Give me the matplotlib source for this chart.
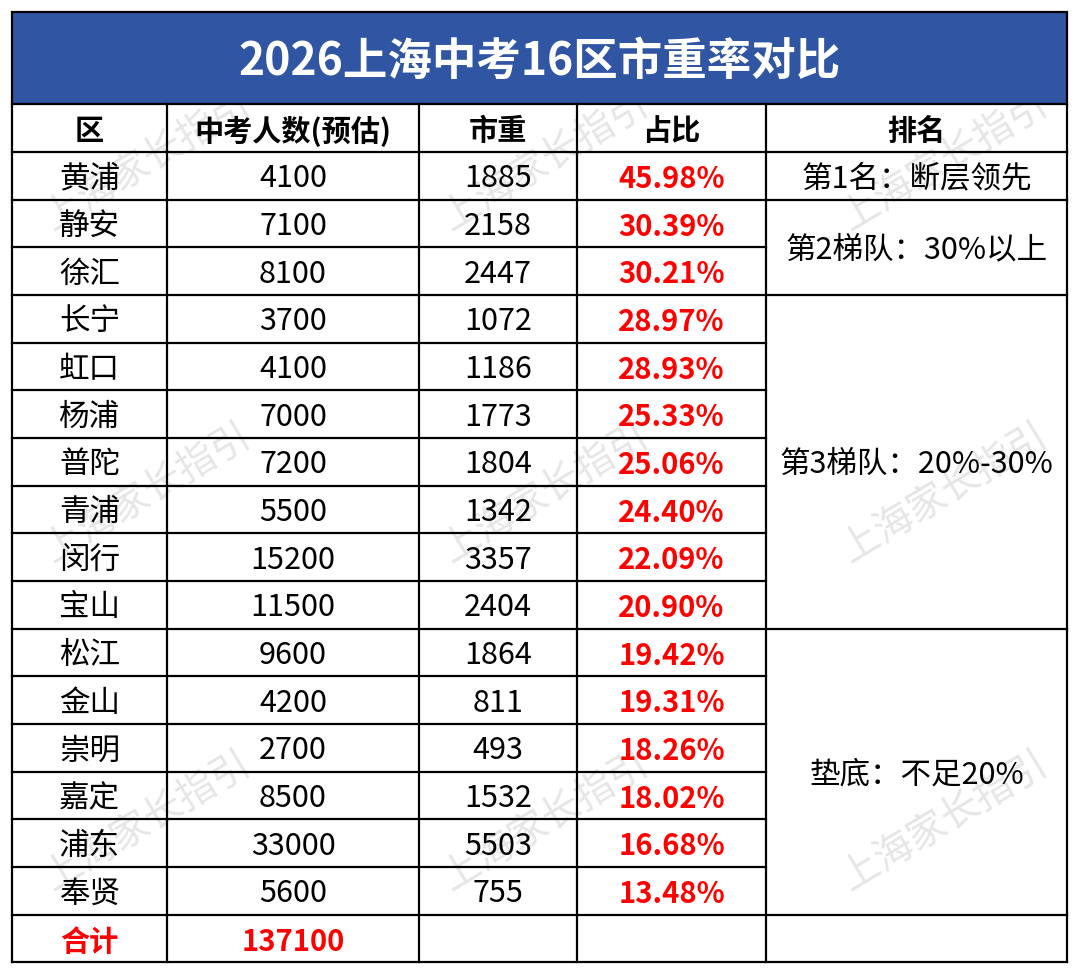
import matplotlib
matplotlib.use('Agg')
import matplotlib.pyplot as plt
from matplotlib.patches import Rectangle

plt.rcParams['font.family'] = ['Noto Sans CJK SC', 'DejaVu Sans']

# 数据
title = '2026上海中考16区市重率对比'
headers = ['区', '中考人数(预估)', '市重', '占比', '排名']
districts = ['黄浦', '静安', '徐汇', '长宁', '虹口', '杨浦', '普陀', '青浦',
             '闵行', '宝山', '松江', '金山', '崇明', '嘉定', '浦东', '奉贤']
students = [4100, 7100, 8100, 3700, 4100, 7000, 7200, 5500,
            15200, 11500, 9600, 4200, 2700, 8500, 33000, 5600]
quota = [1885, 2158, 2447, 1072, 1186, 1773, 1804, 1342,
         3357, 2404, 1864, 811, 493, 1532, 5503, 755]
ratio = [45.98, 30.39, 30.21, 28.97, 28.93, 25.33, 25.06, 24.40,
         22.09, 20.90, 19.42, 19.31, 18.26, 18.02, 16.68, 13.48]
tier_labels = ['第1名：断层领先', '第2梯队：30%以上', '第3梯队：20%-30%', '垫底：不足20%']
tier_rows = [1, 2, 7, 6]
total_label = '合计'
total_students = 137100
watermark = '上海家长指引'

# 版式（像素）
W, H = 1080, 975
col_x = [12, 167, 419, 577, 766, 1067]
top, title_bottom, header_bottom = 12, 104, 152
row_h = 47.67
n = len(districts)
dy = 3  # 文字下移，让中文看起来居中

fig = plt.figure(figsize=(W / 100, H / 100), dpi=100)
ax = fig.add_axes([0, 0, 1, 1])
ax.set_xlim(0, W)
ax.set_ylim(H, 0)
ax.axis('off')

fs = 22
lw = 1.6

# 水印
for cx in [148, 546, 945]:
    for cy in [162, 494, 822]:
        ax.text(cx, cy, watermark, fontsize=28, color='#e6e6e6', rotation=31,
                ha='center', va='center', zorder=1)

# 标题栏
ax.add_patch(Rectangle((col_x[0], top), col_x[-1] - col_x[0], title_bottom - top,
                       facecolor='#2F55A3', edgecolor='black', lw=lw, zorder=2))
ax.text((col_x[0] + col_x[-1]) / 2, (top + title_bottom) / 2 + 4, title,
        fontsize=32, fontweight='bold', color='white', ha='center', va='center', zorder=3)

centers = [(col_x[i] + col_x[i + 1]) / 2 for i in range(5)]

# 表头
for c, h in zip(centers, headers):
    ax.text(c, (title_bottom + header_bottom) / 2 + dy, h, fontsize=21, fontweight='bold',
            ha='center', va='center', zorder=3)

# 数据行
def row_y(i):
    return header_bottom + i * row_h

for i in range(n):
    yc = row_y(i) + row_h / 2 + dy
    ax.text(centers[0], yc, districts[i], fontsize=fs, ha='center', va='center', zorder=3)
    ax.text(centers[1], yc, str(students[i]), fontsize=fs, ha='center', va='center', zorder=3)
    ax.text(centers[2], yc, str(quota[i]), fontsize=fs, ha='center', va='center', zorder=3)
    ax.text(centers[3], yc, f'{ratio[i]:.2f}%', fontsize=21, fontweight='bold',
            color='#FF0000', ha='center', va='center', zorder=3)

# 合计行
yc = row_y(n) + row_h / 2 + dy
ax.text(centers[0], yc, total_label, fontsize=21, fontweight='bold', color='#FF0000',
        ha='center', va='center', zorder=3)
ax.text(centers[1], yc, str(total_students), fontsize=21, fontweight='bold', color='#FF0000',
        ha='center', va='center', zorder=3)

# 排名合并单元格
start = 0
tier_edges = []
for lab, k in zip(tier_labels, tier_rows):
    y0, y1 = row_y(start), row_y(start + k)
    ax.text(centers[4], (y0 + y1) / 2 + dy, lab, fontsize=fs, ha='center', va='center', zorder=3)
    start += k
    tier_edges.append(start)

# 网格线
bottom = row_y(n + 1)
for x in col_x:
    ax.plot([x, x], [title_bottom, bottom], color='black', lw=lw, zorder=4)
ax.plot([col_x[0], col_x[-1]], [header_bottom, header_bottom], color='black', lw=lw, zorder=4)
for i in range(1, n + 2):
    y = row_y(i)
    x_end = col_x[-1] if (i in tier_edges or i == n + 1) else col_x[4]
    ax.plot([col_x[0], x_end], [y, y], color='black', lw=lw, zorder=4)

fig.savefig('out.png', dpi=100, facecolor='white')
